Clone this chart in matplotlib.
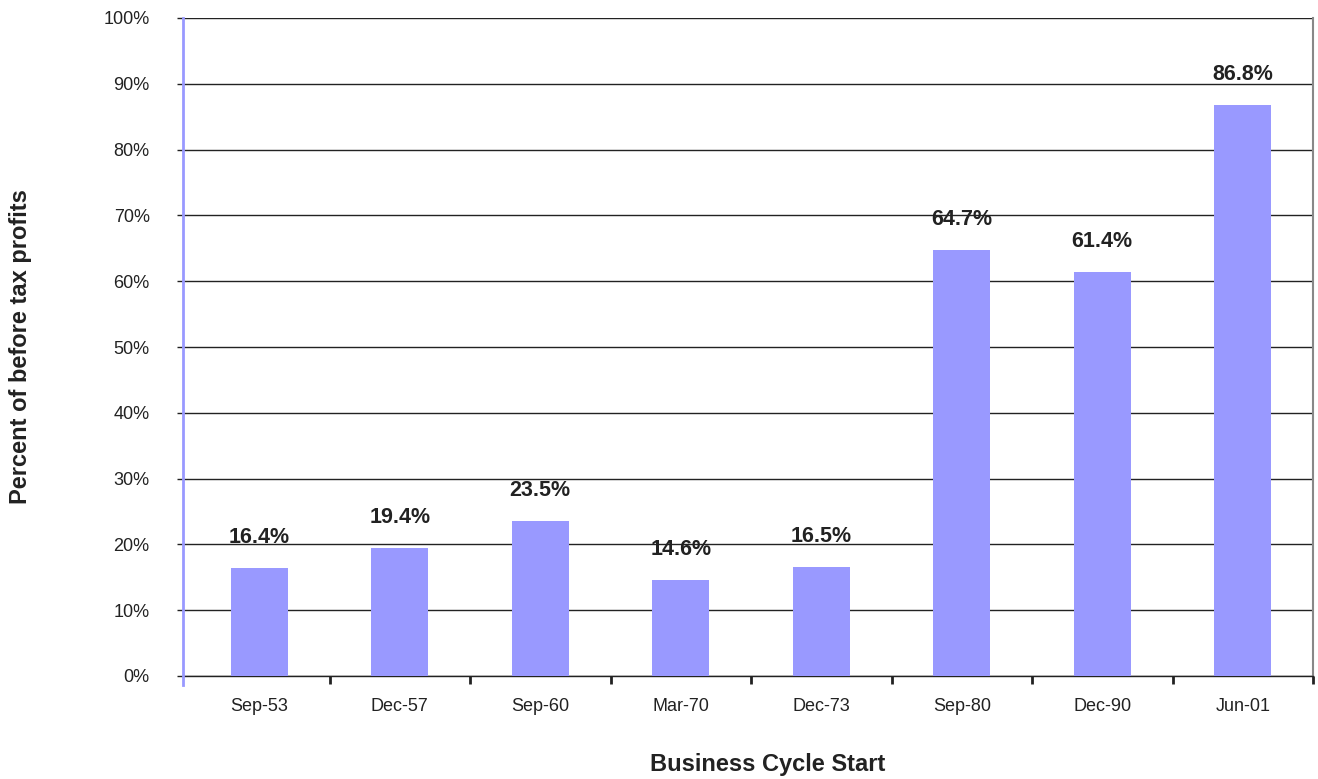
import matplotlib
matplotlib.use("Agg")
import matplotlib.pyplot as plt
from matplotlib.ticker import FuncFormatter, FixedLocator

categories = ["Sep-53", "Dec-57", "Sep-60", "Mar-70", "Dec-73", "Sep-80", "Dec-90", "Jun-01"]
values = [16.4, 19.4, 23.5, 14.6, 16.5, 64.7, 61.4, 86.8]
labels = ["16.4%", "19.4%", "23.5%", "14.6%", "16.5%", "64.7%", "61.4%", "86.8%"]

plt.rcParams['font.family'] = ['Liberation Sans', 'DejaVu Sans']

W, H = 1318, 779
fig = plt.figure(figsize=(W / 100, H / 100), dpi=100)
ax = fig.add_axes([183/W, 1-676/H, (1313-183)/W, (676-18)/H])

x = list(range(len(categories)))
ax.bar(x, values, width=0.405, color="#9999ff", zorder=3)
ax.set_xlim(-0.5 - 6/140.5, len(categories) - 0.5)
ax.set_ylim(0, 100)

for xi, v, lab in zip(x, values, labels):
    ax.annotate(lab, (xi, v), xytext=(0, 18), textcoords="offset points",
                ha="center", va="baseline", fontsize=15.5, fontweight="bold", color="#222222")

ax.set_yticks(range(0, 101, 10))
ax.yaxis.set_major_formatter(FuncFormatter(lambda v, p: f"{int(v)}%"))
ax.grid(axis="y", color="#222222", linewidth=1.0, zorder=1)
ax.tick_params(axis="y", length=4.5, width=1, color="#222222", labelsize=13,
               labelcolor="#222222", pad=19.5)

ax.set_xticks(x)
ax.set_xticklabels(categories)
ax.tick_params(axis="x", length=0, labelsize=13, labelcolor="#222222", pad=16)
ax.xaxis.set_minor_locator(FixedLocator([i + 0.5 for i in x]))
ax.tick_params(axis="x", which="minor", length=6, width=2, color="#222222", direction="out")

ax.spines["top"].set_visible(False)
ax.spines["right"].set_color("#888888")
ax.spines["right"].set_linewidth(1.5)
ax.spines["bottom"].set_color("#222222")
ax.spines["bottom"].set_linewidth(1.0)
ax.spines["left"].set_color("#9999ff")
ax.spines["left"].set_linewidth(2)
ax.spines["left"].set_bounds(-1.3, 100)
ax.spines["left"].set_zorder(4)

fig.text(768/W, 1-765/H, "Business Cycle Start", ha="center", va="center",
         fontsize=17, fontweight="bold", color="#222222")
fig.text(21/W, 1-347/H, "Percent of before tax profits", ha="center", va="center",
         rotation=90, fontsize=17, fontweight="bold", color="#222222")

fig.savefig("out.png", dpi=100)
